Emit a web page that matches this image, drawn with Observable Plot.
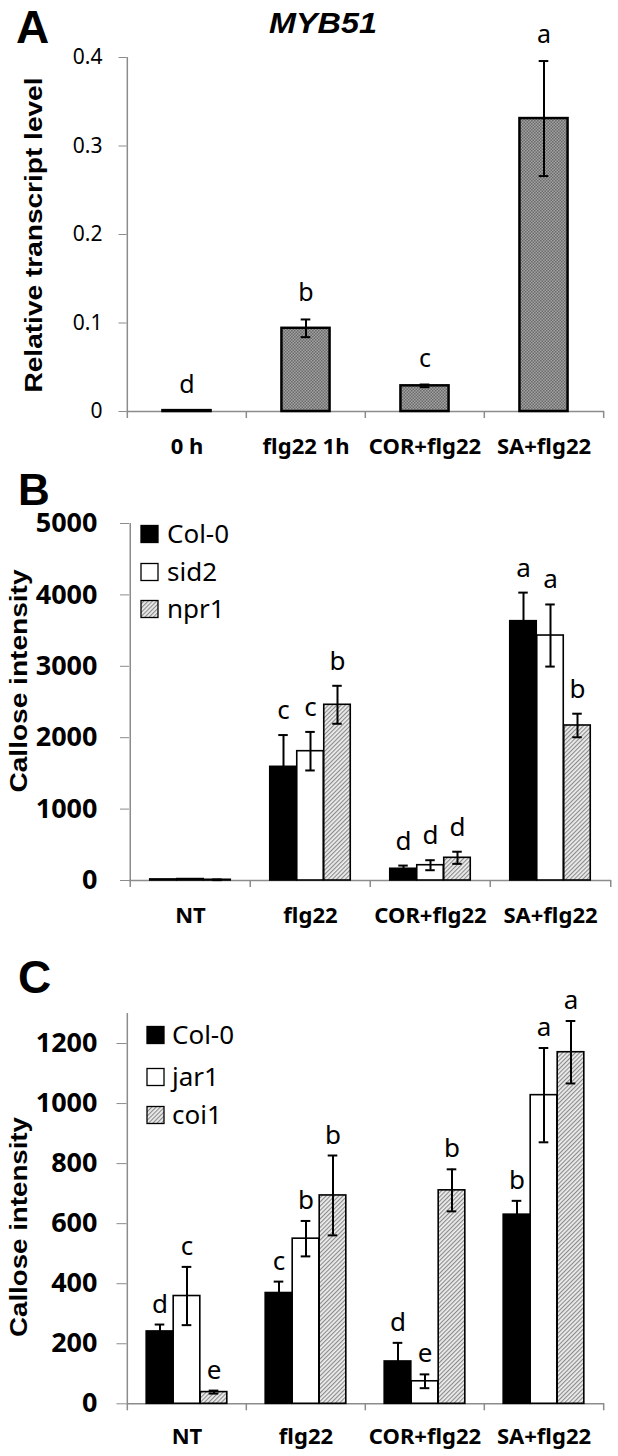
<!DOCTYPE html>
<html><head><meta charset="utf-8">
<script src="https://cdn.jsdelivr.net/npm/d3@7"></script>
<script src="https://cdn.jsdelivr.net/npm/@observablehq/plot@0.6"></script>
<style>
body{margin:0;background:#fff;}
#wrap{position:relative;width:618px;height:1456px;overflow:hidden;background:#fff;}
#wrap > div{position:absolute;left:0;}
#wrap svg{overflow:visible;}
#wrap [aria-label="y-axis tick"]{stroke:#8c8c8c;}
</style></head><body>
<svg width="0" height="0" style="position:absolute">
<defs>
<pattern id="patA" width="3" height="3" patternUnits="userSpaceOnUse">
 <rect width="3" height="3" fill="#a3a3a3"/>
 <rect x="0" y="0" width="1.5" height="1.5" fill="#6a6a6a"/>
 <rect x="1.5" y="1.5" width="1.5" height="1.5" fill="#6a6a6a"/>
</pattern>
<pattern id="patH" width="3" height="3" patternUnits="userSpaceOnUse" patternTransform="rotate(45)">
 <rect width="3" height="3" fill="#ececec"/>
 <rect width="1.1" height="3" fill="#8a8a8a"/>
</pattern>
</defs></svg>
<div id="wrap"></div>
<script>
// ---------- DATA ----------
// Panel A: MYB51 relative transcript level
const catsA = ["0 h", "flg22 1h", "COR+flg22", "SA+flg22"];
const meanA = [0.001, 0.094, 0.029, 0.331];
const errA = [0, 0.010, 0.0015, 0.065];
const letterA = ["d", "b", "c", "a"];
const yTicksA = [0, 0.1, 0.2, 0.3, 0.4];
const yTickLabelsA = ["0", "0.1", "0.2", "0.3", "0.4"];

// Panel B: callose intensity (Col-0, sid2, npr1)
const catsB = ["NT", "flg22", "COR+flg22", "SA+flg22"];
const genoB = ["Col-0", "sid2", "npr1"];
const meanB_col0 = [15, 1592, 164, 3632];
const meanB_sid2 = [20, 1811, 214, 3431];
const meanB_npr1 = [10, 2461, 318, 2171];
const errB_col0 = [0, 445, 45, 400];
const errB_sid2 = [0, 270, 70, 435];
const errB_npr1 = [5, 266, 85, 165];
const letterB_col0 = ["", "c", "d", "a"];
const letterB_sid2 = ["", "c", "d", "a"];
const letterB_npr1 = ["", "b", "d", "b"];
const yTicksB = [0, 1000, 2000, 3000, 4000, 5000];
const yTickLabelsB = ["0", "1000", "2000", "3000", "4000", "5000"];

// Panel C: callose intensity (Col-0, jar1, coi1)
const catsC = ["NT", "flg22", "COR+flg22", "SA+flg22"];
const genoC = ["Col-0", "jar1", "coi1"];
const meanC_col0 = [241, 369, 141, 630];
const meanC_jar1 = [359, 550, 75, 1028];
const meanC_coi1 = [39, 694, 711, 1171];
const errC_col0 = [23, 38, 62, 46];
const errC_jar1 = [97, 59, 23, 157];
const errC_coi1 = [5, 133, 70, 104];
const letterC_col0 = ["d", "c", "d", "b"];
const letterC_jar1 = ["c", "b", "e", "a"];
const letterC_coi1 = ["e", "b", "b", "a"];
const yTicksC = [0, 200, 400, 600, 800, 1000, 1200];
const yTickLabelsC = ["0", "200", "400", "600", "800", "1000", "1200"];
const yMaxC = 1300;

// ---------- DRAWING ----------
const W = 618, GRAY = "#8c8c8c";
const FONT = "'Noto Sans', 'Open Sans', sans-serif";
const ARIAL = "'Liberation Sans', Arial, sans-serif";
const wrap = document.getElementById("wrap");

function frameMarks(cats, bw, frameH) {
  const o = {stroke: GRAY, strokeWidth: 1.5};
  return [
    Plot.ruleY([0], o),
    Plot.ruleX([cats[0]], {...o, dx: -bw / 2}),
    Plot.ruleX(cats, {...o, dx: -bw / 2, insetTop: frameH, insetBottom: -7}),
    Plot.ruleX([cats[cats.length - 1]], {...o, dx: bw / 2, insetTop: frameH, insetBottom: -7})
  ];
}

function errMarks(rows, bw, c, cap) {
  const r = rows.filter(d => d.err > 0);
  const hi = d => d.mean + d.err, lo = d => d.mean - d.err;
  const o = {x: "cat", stroke: "black", strokeWidth: 2};
  const ins = {insetLeft: c - cap / 2, insetRight: bw - c - cap / 2};
  return [
    Plot.ruleX(r, {...o, y1: lo, y2: hi, dx: c - bw / 2}),
    Plot.tickY(r, {...o, ...ins, y: hi}),
    Plot.tickY(r, {...o, ...ins, y: lo})
  ];
}

function addText(svg, t) {
  const s = d3.select(svg).append("text")
    .attr("font-family", t.family || FONT)
    .attr("font-size", t.size)
    .attr("font-weight", t.weight || "normal")
    .attr("font-style", t.style || "normal")
    .attr("text-anchor", t.anchor || "start")
    .attr("fill", "black")
    .text(t.text);
  if (t.rotate) {
    s.attr("transform", `translate(${t.x},${t.y}) rotate(${t.rotate})`).attr("dy", "0.35em");
  } else {
    s.attr("x", t.x).attr("y", t.y);
    if (t.dy) s.attr("dy", t.dy);
  }
  if (t.length) s.attr("textLength", t.length).attr("lengthAdjust", "spacingAndGlyphs");
  return s;
}

function place(svg, top) {
  const d = document.createElement("div");
  d.style.top = top + "px";
  d.appendChild(svg);
  wrap.appendChild(d);
}

// Panel A
(function () {
  const H = 460, ml = 126.5, mr = 14, mt = 57, mb = 49;
  const bw = (W - ml - mr) / catsA.length, frameH = H - mt - mb;
  const barW = 48.5, ins = (bw - barW) / 2;
  const rows = catsA.map((c, i) => ({cat: c, mean: meanA[i], err: errA[i], letter: letterA[i]}));
  const svg = Plot.plot({
    width: W, height: H, marginLeft: ml, marginRight: mr, marginTop: mt, marginBottom: mb,
    style: {fontFamily: FONT, background: "none", overflow: "visible"},
    x: {domain: catsA, padding: 0, axis: null},
    y: {domain: [0, yTicksA[yTicksA.length - 1]], axis: null},
    marks: [
      ...frameMarks(catsA, bw, frameH),
      Plot.barY(rows, {x: "cat", y: "mean", fill: "url(#patA)", stroke: "black", strokeWidth: 2.5, insetLeft: ins, insetRight: ins}),
      ...errMarks(rows, bw, bw / 2, 10),
      Plot.text(rows, {x: "cat", y: d => d.mean + d.err, text: "letter", dy: -18, lineAnchor: "bottom", fontSize: 25, fill: "black"}),
      Plot.axisY({ticks: yTicksA, tickFormat: d => yTickLabelsA[yTicksA.indexOf(d)], tickSize: 8, tickPadding: 16.5, fontSize: 21, stroke: GRAY, fill: "black", label: null}),
      Plot.axisX({tickSize: 0, tickPadding: 27, fontSize: 22, fontWeight: "bold", fill: "black", label: null})
    ]
  });
  addText(svg, {x: 16, y: 43, text: "A", size: 46, weight: "bold", family: ARIAL});
  addText(svg, {x: 323, y: 33, text: "MYB51", size: 30, weight: "bold", style: "italic", family: ARIAL, anchor: "middle", length: 108});
  addText(svg, {x: 34, y: 235, text: "Relative transcript level", size: 23, weight: "bold", family: ARIAL, anchor: "middle", rotate: -90, length: 315});
  place(svg, 0);
})();

function groupedPanel(cfg) {
  const {H, ml, mr, mt, mb, cats, genos, means, errs, letters, fills, yTicks, yLabels, yMax,
         tickSize, tickPadding, tickFont, letterGap, legend, top, panel, yLab} = cfg;
  const bw = (W - ml - mr) / cats.length, frameH = H - mt - mb;
  const w = 27, o = (bw - 3 * w) / 2;
  const marks = [...frameMarks(cats, bw, frameH)];
  genos.forEach((g, gi) => {
    const rows = cats.map((c, i) => ({cat: c, mean: means[gi][i], err: errs[gi][i], letter: letters[gi][i]}));
    const c = o + (gi + 0.5) * w;
    marks.push(Plot.barY(rows, {x: "cat", y: "mean", fill: fills[gi], stroke: "black", strokeWidth: 1.6,
      insetLeft: o + gi * w, insetRight: bw - o - (gi + 1) * w}));
    marks.push(...errMarks(rows, bw, c, 10));
    marks.push(Plot.text(rows.filter(d => d.letter), {x: "cat", y: d => d.mean + d.err, text: "letter", dx: c - bw / 2,
      dy: -letterGap, lineAnchor: "bottom", fontSize: 26, fill: "black"}));
  });
  marks.push(Plot.axisY({ticks: yTicks, tickFormat: d => yLabels[yTicks.indexOf(d)], tickSize, tickPadding,
    fontSize: tickFont, fontWeight: "bold", stroke: GRAY, fill: "black", label: null}));
  marks.push(Plot.axisX({tickSize: 0, tickPadding: cfg.xPad, fontSize: 22, fontWeight: "bold", fill: "black", label: null}));
  const svg = Plot.plot({
    width: W, height: H, marginLeft: ml, marginRight: mr, marginTop: mt, marginBottom: mb,
    style: {fontFamily: FONT, background: "none", overflow: "visible"},
    x: {domain: cats, padding: 0, axis: null},
    y: {domain: [0, yMax], axis: null},
    marks
  });
  const s = d3.select(svg);
  genos.forEach((g, gi) => {
    const ry = legend.rows[gi];
    s.append("rect").attr("x", legend.sx).attr("y", ry - 8.5).attr("width", 17).attr("height", 17)
      .attr("fill", fills[gi]).attr("stroke", "black").attr("stroke-width", 1.3);
    addText(svg, {x: legend.tx, y: ry, dy: "0.36em", text: g, size: 26});
  });
  addText(svg, {x: 18, y: panel.y, text: panel.text, size: panel.size, weight: "bold", family: ARIAL});
  addText(svg, {x: yLab.x, y: yLab.y, text: "Callose intensity", size: 24, weight: "bold", family: ARIAL,
    anchor: "middle", rotate: -90, length: yLab.len});
  place(svg, top);
}

// Panel B
groupedPanel({
  H: 480, ml: 129, mr: 7, mt: 63, mb: 60, top: 460,
  cats: catsB, genos: genoB,
  means: [meanB_col0, meanB_sid2, meanB_npr1],
  errs: [errB_col0, errB_sid2, errB_npr1],
  letters: [letterB_col0, letterB_sid2, letterB_npr1],
  fills: ["black", "white", "url(#patH)"],
  yTicks: yTicksB, yLabels: yTickLabelsB, yMax: yTicksB[yTicksB.length - 1],
  tickSize: 9, tickPadding: 23, tickFont: 27, letterGap: 16, xPad: 27,
  legend: {sx: 141, tx: 167, rows: [74, 112, 149]},
  panel: {text: "B", y: 45, size: 44},
  yLab: {x: 19, y: 221, len: 223}
});

// Panel C
groupedPanel({
  H: 516, ml: 126.5, mr: 14, mt: 73, mb: 52.7, top: 940,
  cats: catsC, genos: genoC,
  means: [meanC_col0, meanC_jar1, meanC_coi1],
  errs: [errC_col0, errC_jar1, errC_coi1],
  letters: [letterC_col0, letterC_jar1, letterC_coi1],
  fills: ["black", "white", "url(#patH)"],
  yTicks: yTicksC, yLabels: yTickLabelsC, yMax: yMaxC,
  tickSize: 10, tickPadding: 19.5, tickFont: 27, letterGap: 12, xPad: 25,
  legend: {sx: 147, tx: 172, rows: [95, 137, 175]},
  panel: {text: "C", y: 53, size: 46},
  yLab: {x: 19, y: 287, len: 220}
});
</script>
</body></html>
